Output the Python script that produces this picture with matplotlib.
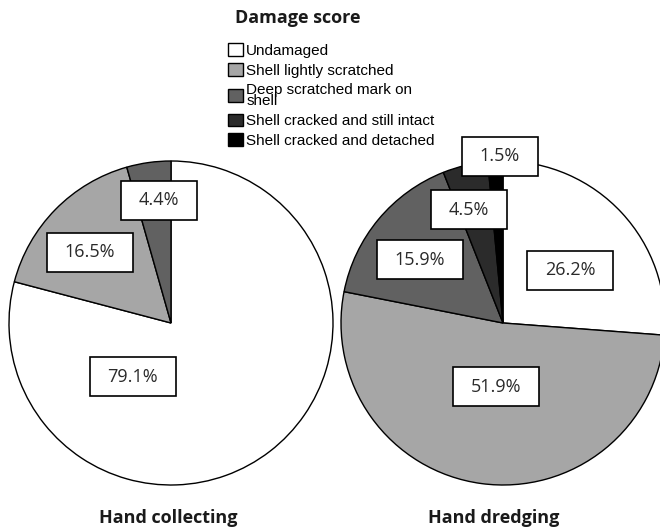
import matplotlib.pyplot as plt
from matplotlib.patches import Rectangle

# ---- data ----
categories = ['Undamaged', 'Shell lightly scratched', 'Deep scratched mark on\nshell',
              'Shell cracked and still intact', 'Shell cracked and detached']
colors = ['#ffffff', '#a6a6a6', '#616161', '#2b2b2b', '#000000']
collecting = [79.1, 16.5, 4.4]
dredging = [26.2, 51.9, 15.9, 4.5, 1.5]

# label spots, as fraction of the radius from the pie centre (x right, y up)
collect_lbl = [(-0.235, -0.333), (-0.50, 0.438), (-0.074, 0.759)]
dredge_lbl = [(0.414, 0.327), (-0.043, -0.395), (-0.512, 0.389), (-0.210, 0.698), (-0.019, 1.03)]

W, H = 660, 530
R = 162

fig = plt.figure(figsize=(W / 100, H / 100), dpi=100)
ax = fig.add_axes([0, 0, 1, 1])

panels = [
    (collecting, collect_lbl, (171, H - 323), 'Hand collecting', 168),
    (dredging, dredge_lbl, (503, H - 323), 'Hand dredging', 494),
]

labels = []
wedges_all = None
for values, offs, center, title, tx in panels:
    wedges, _ = ax.pie(values, colors=colors[:len(values)], startangle=90,
                       counterclock=False, radius=R, center=center,
                       wedgeprops=dict(edgecolor='black', linewidth=1.0))
    wedges_all = wedges
    for v, (dx, dy) in zip(values, offs):
        t = ax.text(center[0] + dx * R, center[1] + dy * R, f'{v:.1f}%',
                    ha='center', va='center', fontsize=13, family='Open Sans',
                    color='#2a2a2a', zorder=5)
        labels.append(t)
    ax.text(tx, H - 518, title, ha='center', va='center', fontsize=13,
            family='Open Sans', fontweight='bold', color='#1a1a1a')

ax.set_xlim(0, W)
ax.set_ylim(0, H)
ax.set_aspect('equal')
ax.axis('off')

# white boxes behind the percentages
fig.canvas.draw()
inv = ax.transData.inverted()
for t in labels:
    bb = t.get_window_extent().transformed(inv)
    cx, cy = t.get_position()
    bw, bh = bb.width + 36, 39
    ax.add_patch(Rectangle((cx - bw / 2, cy - bh / 2), bw, bh, facecolor='white',
                           edgecolor='black', linewidth=1.2, zorder=4))

# legend
ax.text(298, H - 18, 'Damage score', ha='center', va='center', fontsize=13,
        family='Open Sans', fontweight='bold', color='#1a1a1a')
leg = fig.legend(wedges_all, categories, loc='upper left',
                 bbox_to_anchor=(228 / W, 1 - 43 / H), frameon=False,
                 prop=dict(family='Liberation Sans', size=11),
                 handlelength=1.0, handleheight=0.9, handletextpad=0.2,
                 labelspacing=0.35, borderpad=0, borderaxespad=0)
for t in leg.get_texts():
    t.set_linespacing(0.75)

fig.savefig('out.png', dpi=100)
